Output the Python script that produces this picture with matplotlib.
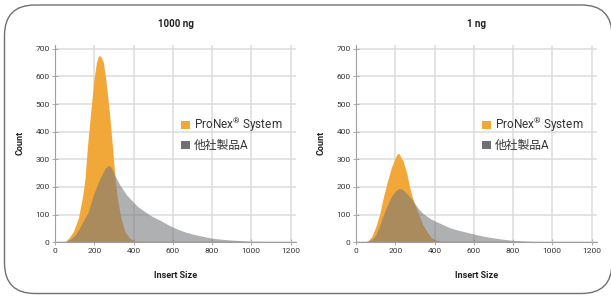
import matplotlib
matplotlib.use("Agg")
import matplotlib.pyplot as plt
from matplotlib.patches import FancyBboxPatch, Patch

# ---- data ----
pronex_1000_x = [0, 40, 50, 70, 93, 119, 139, 153, 166, 182, 199, 212, 224, 235,
                 246, 258, 277, 292, 306, 318, 336, 357, 380, 408, 450, 500, 1200]
pronex_1000_y = [0, 0, 2, 15, 38, 87, 159, 231, 352, 472, 593, 653, 677, 670,
                 653, 593, 472, 352, 231, 159, 87, 38, 15, 3, 1, 0, 0]

other_1000_x = [0, 20, 40, 60, 80, 100, 120, 140, 170, 195, 229, 255, 270, 285, 306, 331, 365,
                400, 420, 440, 460, 480, 500, 540, 580, 620, 660, 700, 750, 800, 850,
                900, 950, 1000, 1050, 1100, 1150, 1200]
other_1000_y = [0, 0, 1, 4, 12, 25, 45, 72, 111, 171, 231, 267, 278, 272, 240, 207, 171,
                145, 130, 120, 110, 100, 92, 78, 62, 49, 38, 30, 22, 15, 11,
                8, 6, 4, 3, 2, 2, 1]

pronex_1_x = [0, 40, 60, 80, 100, 120, 140, 160, 180, 200, 210, 220, 230, 240, 250, 260, 270, 280,
              300, 320, 340, 360, 380, 400, 420, 450, 500, 550, 1200]
pronex_1_y = [0, 1, 5, 20, 55, 100, 165, 220, 270, 305, 320, 320, 305, 295, 270, 245, 210, 180,
              135, 100, 65, 40, 20, 10, 5, 2, 1, 0, 0]

other_1_x = [0, 40, 60, 80, 100, 120, 140, 160, 180, 200, 220, 240, 260, 280, 300, 320, 340, 360,
             380, 400, 440, 480, 520, 560, 600, 650, 700, 750, 800, 850, 900, 1000, 1100, 1200]
other_1_y = [0, 1, 4, 10, 25, 60, 100, 135, 165, 185, 195, 190, 175, 160, 140, 120, 105, 95,
             85, 78, 65, 52, 44, 37, 30, 22, 16, 11, 7, 5, 3, 2, 1, 0]

panel_titles = ["1000 ng", "1 ng"]
series_labels = [r"ProNex$^{\circledR}$ System", "他社製品A"]
x_ticks = [0, 200, 400, 600, 800, 1000, 1200]
y_ticks = [0, 100, 200, 300, 400, 500, 600, 700]

ORANGE = "#F2A838"
GRAY = "#76777B"
LEG_GRAY = "#6F7074"

plt.rcParams['font.family'] = ['Roboto', 'Noto Sans CJK JP', 'DejaVu Sans']
plt.rcParams['mathtext.fontset'] = 'custom'
plt.rcParams['mathtext.rm'] = 'Roboto'
plt.rcParams['mathtext.it'] = 'Roboto'
plt.rcParams['mathtext.bf'] = 'Roboto:bold'

W, H = 611, 298
fig = plt.figure(figsize=(W / 100, H / 100), dpi=100)

# rounded border
border = FancyBboxPatch((4.5 / W, (H - 293.5) / H), (612 - 4.5) / W, (293.5 - 5) / H,
                        boxstyle="round,pad=0,rounding_size=0.05",
                        transform=fig.transFigure, fill=False, edgecolor="#707070",
                        linewidth=1.0, mutation_aspect=W / H)
fig.patches.append(border)

panels = [
    (55, panel_titles[0], pronex_1000_x, pronex_1000_y, other_1000_x, other_1000_y, 182.3),
    (356, panel_titles[1], pronex_1_x, pronex_1_y, other_1_x, other_1_y, 483.0),
]

px_per_bp = 235.5 / 1200
xmax = 1230
ymax = 715
y0px = 242.3
px_per_count = (242.3 - 48.7) / 700

for left_px, title, ox, oy, gx, gy, leg_px in panels:
    w_px = xmax * px_per_bp
    h_px = ymax * px_per_count
    ax = fig.add_axes([left_px / W, (H - y0px) / H, w_px / W, h_px / H])
    ax.set_xlim(0, xmax)
    ax.set_ylim(0, ymax)
    ax.set_axisbelow(True)
    ax.grid(True, color="#dcdcdc", linewidth=1.1)
    ax.fill_between(ox, oy, color=ORANGE, linewidth=0, zorder=2)
    ax.fill_between(gx, gy, color=GRAY, alpha=0.58, linewidth=0, zorder=3)
    ax.set_xticks(x_ticks)
    ax.set_yticks(y_ticks)
    for s in ["top", "right"]:
        ax.spines[s].set_visible(False)
    for s in ["left", "bottom"]:
        ax.spines[s].set_color("#a0a0a0")
        ax.spines[s].set_linewidth(0.8)
        ax.spines[s].set_zorder(4)
    ax.tick_params(direction="inout", length=4, width=0.6, color="#a0a0a0",
                   labelsize=6, labelcolor="#333333", pad=2)
    ax.set_title(title, fontsize=7, fontweight="bold", y=1.063, va="center", color="#222222")
    ax.set_xlabel("Insert Size", fontsize=6.5, fontweight="bold", color="#222222")
    ax.set_ylabel("Count", fontsize=6.5, fontweight="bold", color="#222222")
    ax.xaxis.set_label_coords(0.5, (y0px - 270.7) / h_px)
    ax.yaxis.set_label_coords(-30 / w_px, 0.5)

    handles = [Patch(facecolor=ORANGE, edgecolor="none"), Patch(facecolor=LEG_GRAY, edgecolor="none")]
    leg = ax.legend(handles, series_labels, loc="upper left",
                    bbox_to_anchor=((leg_px - 1 - left_px) / w_px, (y0px - 115.5) / h_px),
                    frameon=False, fontsize=8.5, handlelength=0.72, handleheight=0.72,
                    handletextpad=0.35, labelspacing=0.38, borderaxespad=0, borderpad=0)
    for t in leg.get_texts():
        t.set_color("#333333")

fig.savefig("out.png", dpi=100)
